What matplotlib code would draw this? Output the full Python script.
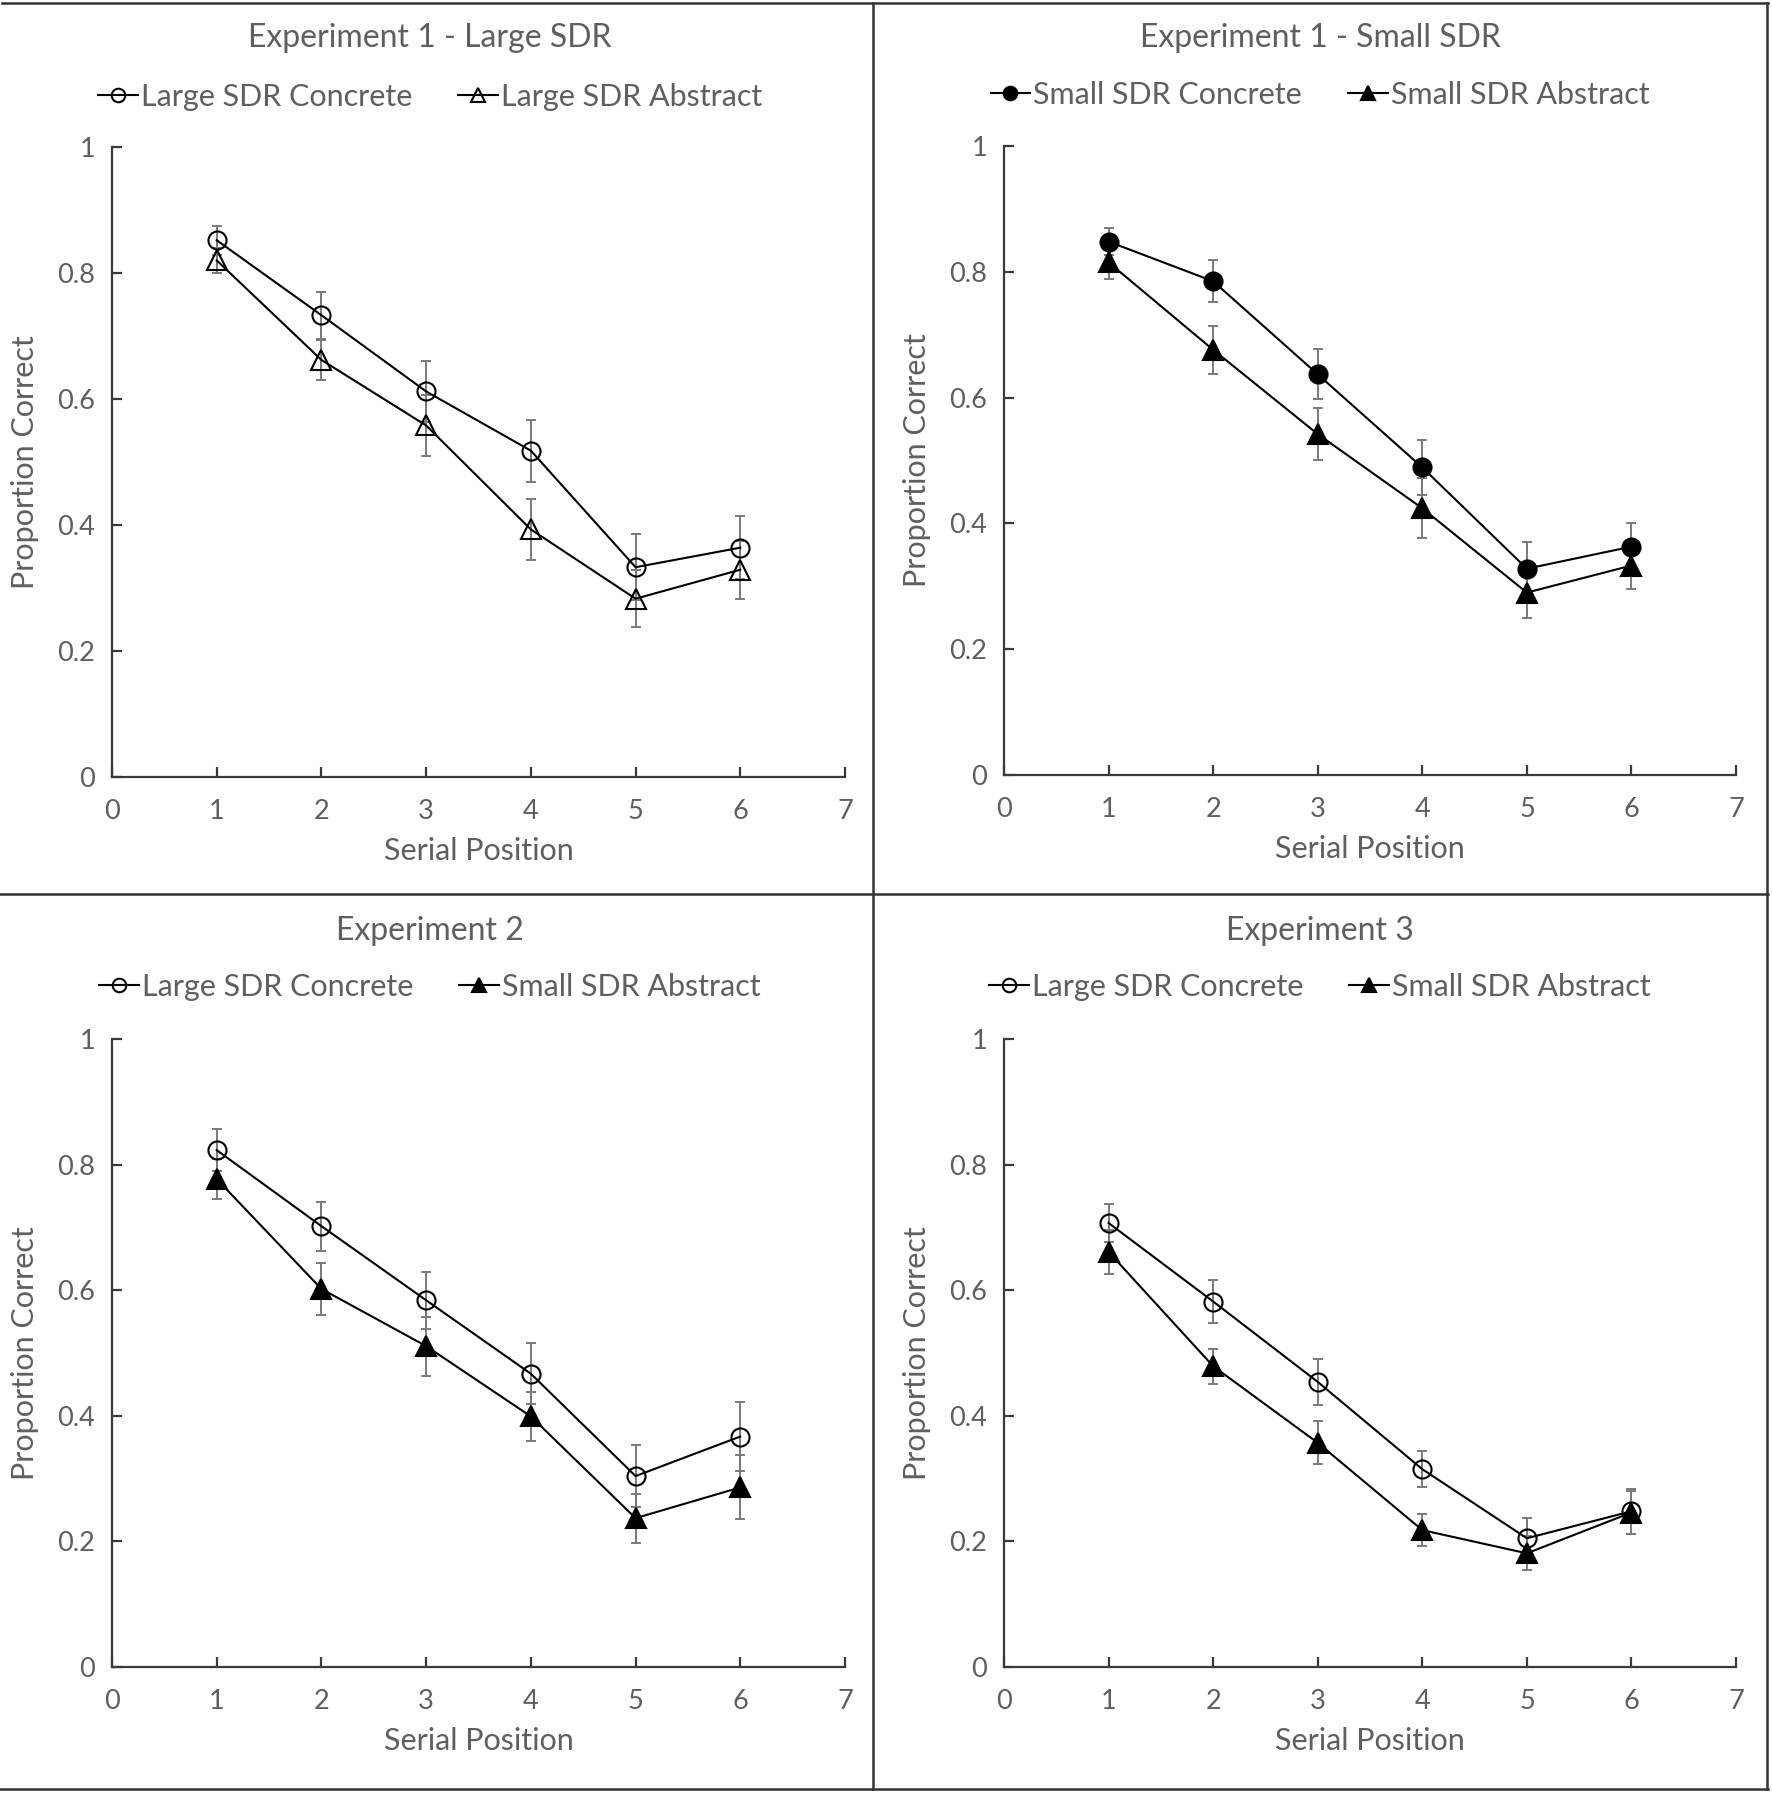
import matplotlib
matplotlib.use("Agg")
import matplotlib.pyplot as plt
from matplotlib.lines import Line2D
import numpy as np

plt.rcParams['font.family'] = ['Lato', 'DejaVu Sans']

positions = [1, 2, 3, 4, 5, 6]
x_ticks = [0, 1, 2, 3, 4, 5, 6, 7]
y_ticks = [0, 0.2, 0.4, 0.6, 0.8, 1.0]
y_tick_labels = ["0", "0.2", "0.4", "0.6", "0.8", "1"]

titles = ["Experiment 1 - Large SDR", "Experiment 1 - Small SDR", "Experiment 2", "Experiment 3"]

# Panel 1
p1_labels = ["Large SDR Concrete", "Large SDR Abstract"]
p1_concrete = [0.852, 0.733, 0.612, 0.518, 0.333, 0.364]
p1_concrete_err = [0.023, 0.037, 0.048, 0.049, 0.052, 0.050]
p1_abstract = [0.820, 0.662, 0.558, 0.393, 0.283, 0.329]
p1_abstract_err = [0.020, 0.032, 0.048, 0.048, 0.045, 0.046]

# Panel 2
p2_labels = ["Small SDR Concrete", "Small SDR Abstract"]
p2_concrete = [0.848, 0.785, 0.637, 0.489, 0.328, 0.363]
p2_concrete_err = [0.021, 0.033, 0.040, 0.044, 0.042, 0.038]
p2_abstract = [0.815, 0.676, 0.542, 0.424, 0.290, 0.333]
p2_abstract_err = [0.027, 0.038, 0.041, 0.048, 0.040, 0.037]

# Panel 3
p3_labels = ["Large SDR Concrete", "Small SDR Abstract"]
p3_concrete = [0.823, 0.702, 0.584, 0.467, 0.304, 0.367]
p3_concrete_err = [0.033, 0.039, 0.045, 0.049, 0.049, 0.055]
p3_abstract = [0.777, 0.602, 0.511, 0.399, 0.237, 0.286]
p3_abstract_err = [0.032, 0.042, 0.047, 0.039, 0.039, 0.051]

# Panel 4
p4_labels = ["Large SDR Concrete", "Small SDR Abstract"]
p4_concrete = [0.707, 0.582, 0.454, 0.315, 0.205, 0.248]
p4_concrete_err = [0.031, 0.034, 0.037, 0.029, 0.033, 0.036]
p4_abstract = [0.661, 0.479, 0.357, 0.218, 0.181, 0.246]
p4_abstract_err = [0.035, 0.028, 0.034, 0.026, 0.027, 0.034]

W, H = 1772, 1793
fig = plt.figure(figsize=(W / 100, H / 100), dpi=100)
fig.patch.set_facecolor('white')

TEXT = '#5f5f5f'
AX = '#3a3a3a'
ERR = '#7a7a7a'

def fx(x):
    return x / W

def fy(y):
    return 1 - y / H

panels = [
    dict(rect=(112, 147, 845, 777), cx=430, ty=38, ly=97,
         series=[(p1_concrete, p1_concrete_err, 'o', 'none', p1_labels[0]),
                 (p1_abstract, p1_abstract_err, '^', 'none', p1_labels[1])]),
    dict(rect=(1004, 146, 1736, 775), cx=1320, ty=38, ly=95,
         series=[(p2_concrete, p2_concrete_err, 'o', 'black', p2_labels[0]),
                 (p2_abstract, p2_abstract_err, '^', 'black', p2_labels[1])]),
    dict(rect=(112, 1039, 845, 1667), cx=430, ty=931, ly=987,
         series=[(p3_concrete, p3_concrete_err, 'o', 'none', p3_labels[0]),
                 (p3_abstract, p3_abstract_err, '^', 'black', p3_labels[1])]),
    dict(rect=(1004, 1039, 1736, 1667), cx=1320, ty=931, ly=987,
         series=[(p4_concrete, p4_concrete_err, 'o', 'none', p4_labels[0]),
                 (p4_abstract, p4_abstract_err, '^', 'black', p4_labels[1])]),
]

for i, p in enumerate(panels):
    l, t, r, b = p['rect']
    ax = fig.add_axes([fx(l), fy(b), (r - l) / W, (b - t) / H])
    handles = []
    for vals, errs, mk, fc, lab in p['series']:
        ax.errorbar(positions, vals, yerr=errs, fmt='none', ecolor=ERR,
                    elinewidth=1.4, capsize=3.8, capthick=1.4, zorder=2)
        ms = 13 if mk == 'o' else 14
        ln, = ax.plot(positions, vals, color='black', lw=1.5, marker=mk, ms=ms,
                      mfc=fc, mec='black', mew=1.5, zorder=3, label=lab)
        handles.append(ln)
    ax.set_xlim(0, 7)
    ax.set_ylim(0, 1)
    ax.set_xticks(x_ticks)
    ax.set_yticks(y_ticks)
    ax.set_yticklabels(y_tick_labels)
    for s in ['top', 'right']:
        ax.spines[s].set_visible(False)
    for s in ['left', 'bottom']:
        ax.spines[s].set_color(AX)
        ax.spines[s].set_linewidth(1.6)
    ax.tick_params(axis='both', direction='in', length=7, width=1.6, color=AX,
                   labelsize=19.5, labelcolor=TEXT)
    ax.tick_params(axis='x', pad=16)
    ax.tick_params(axis='y', pad=12)
    ax.set_facecolor('none')

    fig.text(fx(p['cx']), fy(p['ty']), titles[i], ha='center', va='center',
             fontsize=23, color=TEXT)
    fig.text(fx(l - 87), fy((t + b) / 2), "Proportion Correct", rotation=90,
             ha='center', va='center', fontsize=22, color=TEXT)
    fig.text(fx((l + r) / 2), fy(b + 74), "Serial Position", ha='center',
             va='center', fontsize=22, color=TEXT)
    leg = fig.legend(handles=handles, loc='center',
                     bbox_to_anchor=(fx(p['cx']), fy(p['ly'])), ncol=2,
                     frameon=False, fontsize=22, handlelength=1.3,
                     handletextpad=0.1, columnspacing=1.5, markerscale=0.75)
    for txt in leg.get_texts():
        txt.set_color(TEXT)

# panel frame lines
frame_kw = dict(color='#333333', lw=1.8, transform=fig.transFigure)
fig.add_artist(Line2D([fx(2), fx(1768)], [fy(3), fy(3)], **frame_kw))
fig.add_artist(Line2D([fx(1767), fx(1767)], [fy(3), fy(1789)], **frame_kw))
fig.add_artist(Line2D([fx(0), fx(1768)], [fy(1789), fy(1789)], **frame_kw))
fig.add_artist(Line2D([fx(873), fx(873)], [fy(3), fy(1789)], **frame_kw))
fig.add_artist(Line2D([fx(0), fx(1768)], [fy(894), fy(894)], **frame_kw))

fig.savefig("out.png", dpi=100, facecolor='white')
